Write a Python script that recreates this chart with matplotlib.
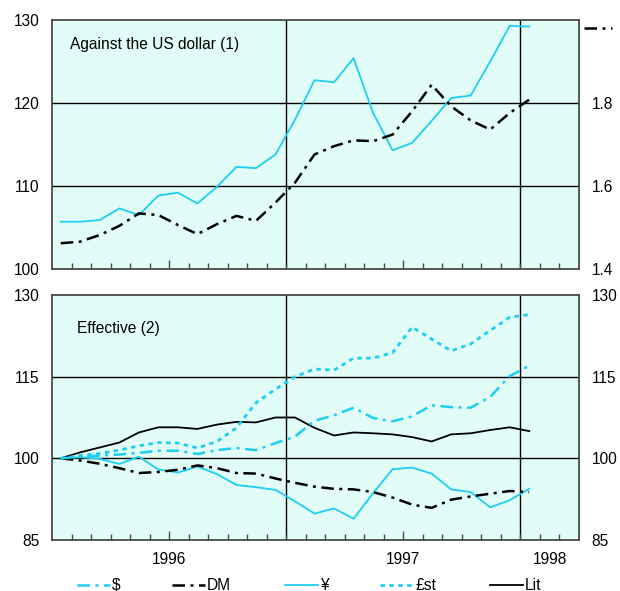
import numpy as np
import matplotlib
matplotlib.use("Agg")
import matplotlib.pyplot as plt
from matplotlib.lines import Line2D

plt.rcParams['font.family'] = ['Liberation Sans', 'DejaVu Sans']

# Monthly observations, January 1996 to January 1998
# Against the US dollar: yen per dollar index (left scale), DM per dollar (right scale)
yen_usd = [105.7, 105.7, 105.9, 107.3, 106.5, 108.85, 109.2, 107.9, 109.9,
           112.3, 112.15, 113.8, 118.0, 122.75, 122.5, 125.4, 118.8, 114.3,
           115.2, 117.85, 120.6, 120.9, 125.0, 129.3, 129.2]
dm_usd = [1.462, 1.466, 1.482, 1.504, 1.534, 1.530, 1.506, 1.484, 1.508,
          1.528, 1.516, 1.560, 1.608, 1.676, 1.696, 1.710, 1.708, 1.724,
          1.780, 1.844, 1.792, 1.758, 1.736, 1.776, 1.808]

# Effective exchange rates (January 1996 = 100)
eff_usd = [100.0, 100.3, 100.5, 100.7, 101.0, 101.4, 101.4, 100.8, 101.5,
           101.9, 101.5, 102.8, 104.0, 106.9, 107.9, 109.3, 107.4, 106.8,
           107.7, 109.75, 109.4, 109.3, 111.3, 115.1, 117.0]
eff_dm = [100.0, 99.6, 99.0, 98.2, 97.3, 97.5, 97.9, 98.7, 98.2, 97.3,
          97.2, 96.3, 95.5, 94.8, 94.4, 94.3, 93.8, 92.8, 91.5, 90.9,
          92.4, 93.0, 93.5, 94.0, 93.8]
eff_yen = [100.0, 100.2, 99.9, 98.95, 100.3, 97.95, 97.4, 98.5, 97.1,
           95.1, 94.7, 94.2, 92.1, 89.85, 90.8, 88.9, 93.6, 98.0, 98.3,
           97.2, 94.3, 93.8, 91.0, 92.3, 94.4]
eff_gbp = [100.0, 100.5, 100.9, 101.5, 102.3, 102.9, 102.8, 101.9, 103.1,
           105.6, 110.2, 112.7, 115.0, 116.4, 116.2, 118.4, 118.4, 119.4,
           124.1, 121.9, 119.75, 121.0, 123.5, 125.9, 126.4]
eff_lit = [100.0, 101.1, 102.0, 102.9, 104.75, 105.7, 105.7, 105.4, 106.2,
           106.7, 106.6, 107.5, 107.5, 105.6, 104.2, 104.75, 104.6, 104.4,
           103.9, 103.1, 104.4, 104.6, 105.2, 105.7, 105.0]

year_labels = ['1996', '1997', '1998']
legend_labels = ['$', 'DM', '¥', '£st', 'Lit']

CYAN = '#1CCFF2'
BG = '#E2FDF8'
SPINE = '#4a4a4a'
FS = 11.2
YPAD = 9.2

styles = {
    '$':   dict(color=CYAN, lw=1.8, dashes=(5, 2.2, 1.2, 2.2)),
    'DM':  dict(color='black', lw=1.8, dashes=(5, 2.2, 1.2, 2.2)),
    '¥':   dict(color=CYAN, lw=1.3, linestyle='-'),
    '£st': dict(color=CYAN, lw=2.0, dashes=(1.6, 1.6)),
    'Lit': dict(color='black', lw=1.3, linestyle='-'),
}

W, H = 620, 591
fig = plt.figure(figsize=(W / 100, H / 100), dpi=100)


def px_axes(x0, y0, x1, y1):
    return fig.add_axes([x0 / W, 1 - y1 / H, (x1 - x0) / W, (y1 - y0) / H])


ax1 = px_axes(52, 20, 579, 269)
ax2 = px_axes(52, 295, 579, 540)

XMAX = 27
x = np.arange(len(yen_usd)) + 0.45


def style_axes(ax, show_labels):
    ax.set_facecolor(BG)
    ax.set_xlim(0, XMAX)
    for s in ax.spines.values():
        s.set_color(SPINE)
        s.set_linewidth(1.3)
    ax.axvline(12, color='black', lw=1.0, zorder=1)
    ax.axvline(24, color='black', lw=1.0, zorder=1)
    ax.set_xticks([6, 18, 25.5])
    ax.set_xticks([m for m in range(1, XMAX) if m not in (6, 18)], minor=True)
    ax.tick_params(axis='x', which='major', direction='in', length=6.5,
                   width=1.0, color=SPINE, labelsize=FS, pad=9)
    ax.tick_params(axis='x', which='minor', direction='in', length=4,
                   width=1.0, color=SPINE)
    ax.xaxis.get_major_ticks()[2].tick1line.set_visible(False)
    if show_labels:
        ax.set_xticklabels(year_labels)
    else:
        ax.set_xticklabels([])
    ax.tick_params(axis='y', length=0, labelsize=FS, pad=YPAD)


# Top panel: against the US dollar
style_axes(ax1, False)
ax1.set_ylim(100, 130)
ax1.set_yticks([100, 110, 120, 130])
for v in (110, 120):
    ax1.axhline(v, color='black', lw=1.0, zorder=1)
ax1.plot(x, yen_usd, zorder=3, **styles['¥'])
ax1.text(18 / 527, 0.9, 'Against the US dollar (1)', transform=ax1.transAxes,
         fontsize=FS, va='center', ha='left')

ax1r = ax1.twinx()
ax1r.set_ylim(1.4, 2.0)
ax1r.set_yticks([1.4, 1.6, 1.8])
ax1r.set_yticklabels(['1.4', '1.6', '1.8'])
ax1r.tick_params(axis='y', length=0, labelsize=FS, pad=YPAD)
for s in ax1r.spines.values():
    s.set_visible(False)
ax1r.plot(x, dm_usd, zorder=3, **styles['DM'])

# DM scale marker next to the right-hand axis
fig.add_artist(Line2D([584 / W, 612 / W], [1 - 28 / H, 1 - 28 / H],
                      transform=fig.transFigure, **styles['DM']))

# Bottom panel: effective rates
style_axes(ax2, True)
ax2.set_ylim(85, 130)
ax2.set_yticks([85, 100, 115, 130])
ax2.tick_params(axis='y', labelright=True)
for v in (100, 115):
    ax2.axhline(v, color='black', lw=1.0, zorder=1)
series = {'$': eff_usd, 'DM': eff_dm, '¥': eff_yen, '£st': eff_gbp, 'Lit': eff_lit}
for name in ['Lit', '¥', 'DM', '$', '£st']:
    ax2.plot(x, series[name], zorder=3, **styles[name])
ax2.text(25 / 527, 0.865, 'Effective (2)', transform=ax2.transAxes,
         fontsize=FS, va='center', ha='left')

# Legend row along the bottom
leg_x = [77, 172, 285, 380, 490]
leg_y = 1 - 585 / H
for xs, name in zip(leg_x, legend_labels):
    fig.add_artist(Line2D([xs / W, (xs + 33) / W], [leg_y, leg_y],
                          transform=fig.transFigure, **styles[name]))
    fig.text((xs + 35) / W, leg_y, name, fontsize=FS, va='center', ha='left')

fig.savefig('out.png', dpi=100, facecolor='white')
